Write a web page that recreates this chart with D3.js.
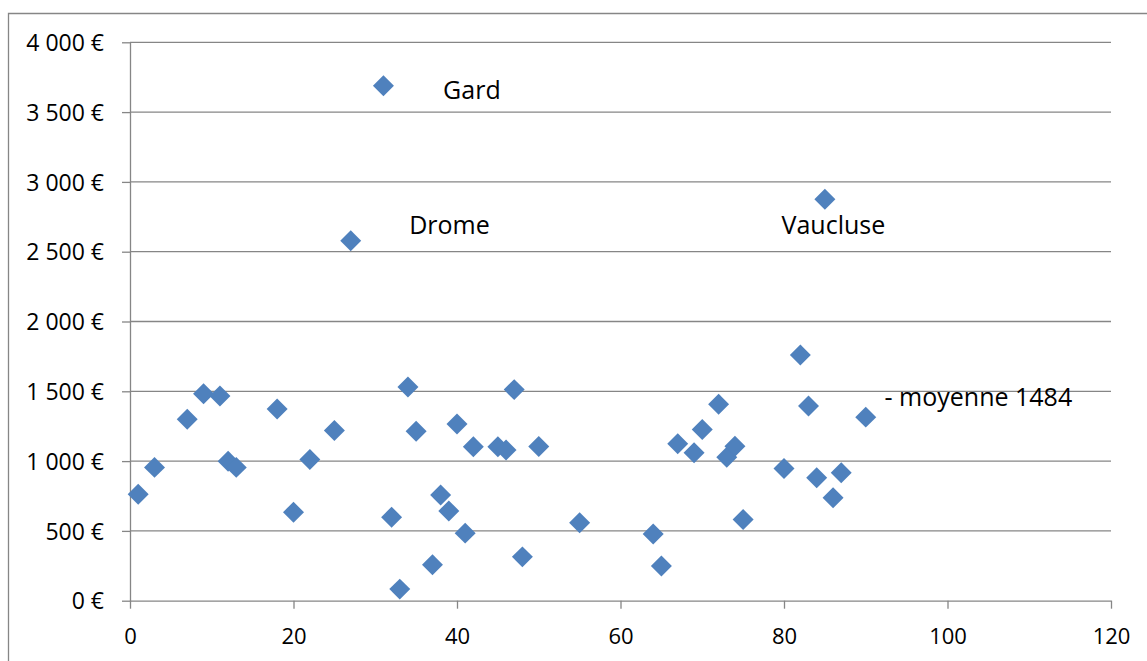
<!DOCTYPE html>
<html>
<head>
<meta charset="utf-8">
<script src="https://cdn.jsdelivr.net/npm/d3@7"></script>
<style>
  html, body { margin: 0; padding: 0; background: #fff; }
  svg { display: block; }
  text { font-family: "Open Sans", "DejaVu Sans", sans-serif; fill: #000; }
</style>
</head>
<body>
<svg id="chart" width="1147" height="661"></svg>
<script>
// ---- data ----
const xValues = [1, 3, 7, 9, 11, 12, 13, 18, 20, 22, 25, 27, 31, 32, 33, 34, 35, 37, 38, 39, 40, 41, 42, 45, 46, 47, 48, 50, 55, 64, 65, 67, 69, 70, 72, 73, 74, 75, 80, 82, 83, 84, 85, 86, 87, 90];
const yValues = [763, 955, 1300, 1483, 1466, 999, 955, 1373, 634, 1011, 1219, 2578, 3689, 598, 83, 1531, 1214, 258, 757, 643, 1265, 484, 1103, 1103, 1080, 1512, 314, 1105, 558, 478, 249, 1125, 1060, 1226, 1408, 1027, 1106, 581, 947, 1760, 1395, 880, 2875, 737, 916, 1315];
const yTicks = [0, 500, 1000, 1500, 2000, 2500, 3000, 3500, 4000];
const xTicks = [0, 20, 40, 60, 80, 100, 120];
const annotationText = ["Gard", "Drome", "Vaucluse", "- moyenne 1484"];
const annotationX = [38.3, 34.15, 79.7, 92.3];
const annotationY = [3592, 2625, 2625, 1395];

// ---- layout ----
const svg = d3.select("#chart");
const plotLeft = 130, plotRight = 1111, plotTop = 42.3, plotBottom = 600.7;
const x = d3.scaleLinear().domain([0, 120]).range([plotLeft, plotRight]);
const y = d3.scaleLinear().domain([0, 4000]).range([plotBottom, plotTop]);
const gridColor = "#868686";

// outer chart border
svg.append("path")
  .attr("d", `M8.5,661 L8.5,13.5 L1147,13.5`)
  .attr("fill", "none").attr("stroke", gridColor).attr("stroke-width", 1.3);

// horizontal gridlines
svg.append("g").selectAll("line").data(yTicks.filter(d => d > 0)).join("line")
  .attr("x1", plotLeft).attr("x2", plotRight)
  .attr("y1", d => y(d)).attr("y2", d => y(d))
  .attr("stroke", gridColor).attr("stroke-width", 1.3);

// y axis
const yAxis = d3.axisLeft(y).tickValues(yTicks).tickSize(8).tickSizeOuter(0)
  .tickFormat(d => (d >= 1000 ? Math.floor(d / 1000) + " " + String(d % 1000).padStart(3, "0") : String(d)) + " €");
const gy = svg.append("g").attr("transform", `translate(${plotLeft},0)`).call(yAxis);
gy.attr("font-family", null).attr("font-size", null);
gy.select(".domain").attr("stroke", gridColor).attr("stroke-width", 1.3);
gy.selectAll(".tick line").attr("stroke", gridColor).attr("stroke-width", 1.3);
gy.selectAll(".tick text").attr("x", -26).attr("dy", "0.36em")
  .style("font-size", "23px").attr("fill", "#000");

// x axis
const xAxis = d3.axisBottom(x).tickValues(xTicks).tickSize(8).tickSizeOuter(0);
const gx = svg.append("g").attr("transform", `translate(0,${plotBottom})`).call(xAxis);
gx.attr("font-family", null).attr("font-size", null);
gx.select(".domain").attr("stroke", gridColor).attr("stroke-width", 1.3);
gx.selectAll(".tick line").attr("stroke", gridColor).attr("stroke-width", 1.3);
gx.selectAll(".tick text").attr("y", 43).attr("dy", 0)
  .style("font-size", "22px").attr("fill", "#000");

// points (diamonds)
const pts = xValues.map((v, i) => ({ x: v, y: yValues[i] }));
const diamond = d3.symbol().type(d3.symbolSquare).size(220);
svg.append("g").selectAll("path").data(pts).join("path")
  .attr("d", diamond)
  .attr("transform", d => `translate(${x(d.x)},${y(d.y)}) rotate(45)`)
  .attr("fill", "#4F81BD");

// annotations
svg.append("g").selectAll("text").data(annotationText).join("text")
  .attr("x", (d, i) => x(annotationX[i]))
  .attr("y", (d, i) => y(annotationY[i]))
  .style("font-size", "25px")
  .text(d => d);
</script>
</body>
</html>
